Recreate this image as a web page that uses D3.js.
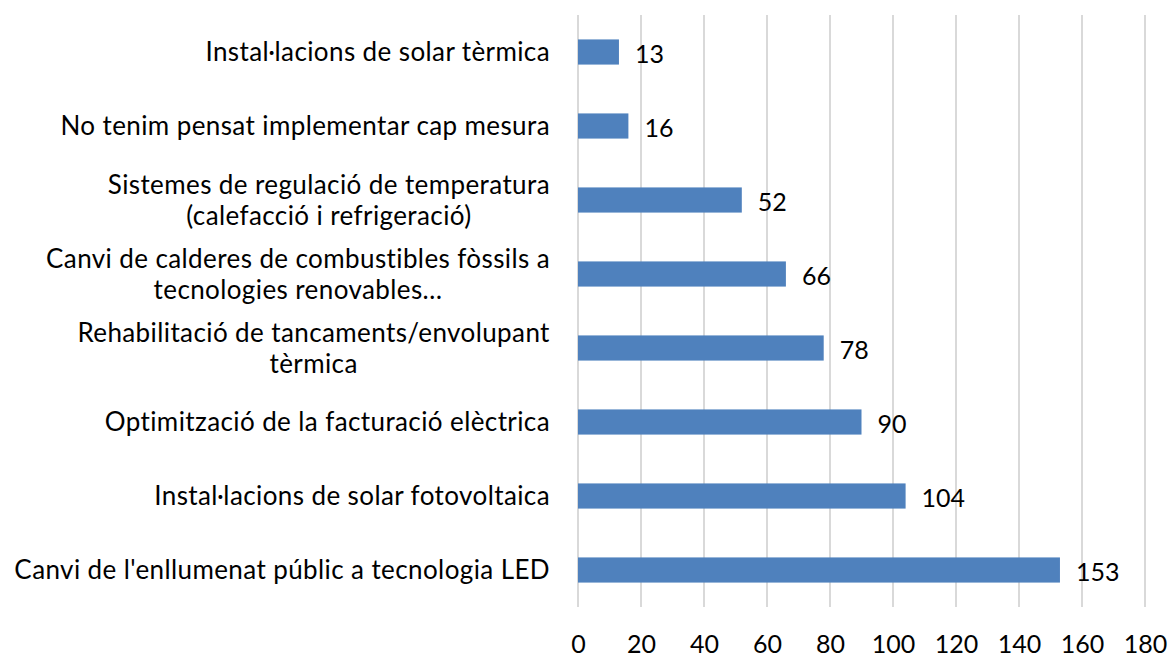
<!DOCTYPE html>
<html lang="ca">
<head>
  <meta charset="utf-8">
  <title>Mesures</title>
  <script src="https://d3js.org/d3.v7.min.js"></script>
  <style>
    body { margin: 0; background: #fff; }
    text { font-family: Lato, "Open Sans", sans-serif; fill: #000; }
  </style>
</head>
<body>
<svg width="1170" height="657"></svg>
<script>
// categories, top to bottom (line breaks as in the original chart)
var categories = [
  "Instal·lacions de solar tèrmica",
  "No tenim pensat implementar cap mesura",
  "Sistemes de regulació de temperatura\n(calefacció i refrigeració)",
  "Canvi de calderes de combustibles fòssils a\ntecnologies renovables…",
  "Rehabilitació de tancaments/envolupant\ntèrmica",
  "Optimització de la facturació elèctrica",
  "Instal·lacions de solar fotovoltaica",
  "Canvi de l'enllumenat públic a tecnologia LED"
];
var values = [13, 16, 52, 66, 78, 90, 104, 153];
var xTicks = [0, 20, 40, 60, 80, 100, 120, 140, 160, 180];

var svg = d3.select("svg"),
    plotLeft = 578, plotRight = 1145, plotTop = 15, plotBottom = 607;

var x = d3.scaleLinear().domain([0, 180]).range([plotLeft, plotRight]);
var y = d3.scaleBand().domain(categories).range([plotTop, plotBottom]).paddingInner(0.66).paddingOuter(0.33);

// vertical gridlines
svg.append("g").selectAll("line")
  .data(xTicks)
  .enter().append("line")
    .attr("x1", function(d) { return x(d); })
    .attr("x2", function(d) { return x(d); })
    .attr("y1", plotTop)
    .attr("y2", plotBottom)
    .attr("stroke", "#d9d9d9")
    .attr("stroke-width", 2);

// x axis labels
var xAxis = d3.axisBottom(x).tickValues(xTicks).tickSize(0).tickPadding(0);
var ax = svg.append("g").attr("transform", "translate(0," + 653 + ")").call(xAxis);
ax.select(".domain").remove();
ax.selectAll("text")
  .attr("dy", 0)
  .style("font-family", "Lato, sans-serif")
  .style("font-size", "25px")
  .attr("fill", "#000");

// bars
svg.append("g").selectAll("rect")
  .data(values)
  .enter().append("rect")
    .attr("x", x(0))
    .attr("y", function(d, i) { return y(categories[i]); })
    .attr("width", function(d) { return x(d) - x(0); })
    .attr("height", y.bandwidth())
    .attr("fill", "#4f81bd");

// value labels
svg.append("g").selectAll("text")
  .data(values)
  .enter().append("text")
    .attr("x", function(d) { return x(d) + 16; })
    .attr("y", function(d, i) { return y(categories[i]) + y.bandwidth() / 2 + 11; })
    .style("font-size", "25px")
    .text(function(d) { return d; });

// category labels
var lineH = 31;
svg.append("g").selectAll("text")
  .data(categories)
  .enter().append("text")
    .attr("text-anchor", "middle")
    .style("font-size", "26px")
    .style("letter-spacing", "0.4px")
    .each(function(d) {
      var lines = d.split("\n"),
          cy = y(d) + y.bandwidth() / 2,
          t = d3.select(this);
      lines.forEach(function(l, k) {
        t.append("tspan")
          .attr("x", 0)
          .attr("y", cy + (k - (lines.length - 1) / 2) * lineH + 9)
          .text(l);
      });
    })
    .each(function() {
      // right-align the block, lines centred within it
      var w = this.getBBox().width;
      d3.select(this).selectAll("tspan").attr("x", 550 - w / 2);
    });
</script>
</body>
</html>
